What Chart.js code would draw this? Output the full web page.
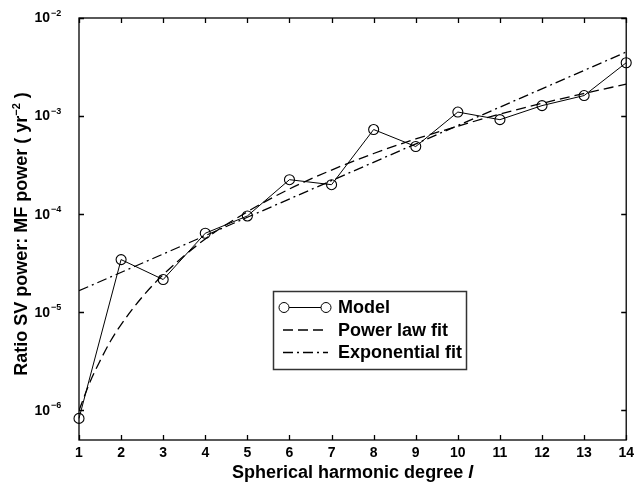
<!DOCTYPE html>
<html lang="en">
<head>
  <meta charset="UTF-8" />
  <title>Ratio SV power : MF power</title>
  <script src="https://cdn.jsdelivr.net/npm/chart.js"></script>
  <style>
    html, body { margin: 0; padding: 0; background: #fff; }
    #wrap { width: 639px; height: 485px; }
  </style>
</head>
<body>
  <div id="wrap"><canvas id="ratioChart" width="639" height="485"></canvas></div>

  <script>
    // degrees l and model ratio (yr^-2)
    const degrees = [1, 2, 3, 4, 5, 6, 7, 8, 9, 10, 11, 12, 13, 14];
    const modelRatio = [8.3e-7, 3.45e-5, 2.16e-5, 6.4e-5, 9.6e-5, 2.25e-4, 2.0e-4,
                        7.3e-4, 4.9e-4, 1.1e-3, 9.2e-4, 1.28e-3, 1.62e-3, 3.5e-3];

    // power law fit
    const powerDeg = [1, 1.25, 1.5, 1.75, 2, 2.5, 3, 4, 5, 6, 7, 8, 9, 10, 11, 12, 13, 14];
    const powerFit = [1.0e-6, 1.9e-6, 3.2e-6, 5.1e-6, 7.5e-6, 1.43e-5, 2.42e-5, 5.6e-5, 1.06e-4,
                      1.81e-4, 2.82e-4, 4.16e-4, 5.85e-4, 7.9e-4, 1.05e-3, 1.35e-3, 1.70e-3, 2.12e-3];

    // exponential fit (straight line on log axis)
    const expDeg = [1, 14];
    const expFit = [1.66e-5, 4.5e-3];

    const yExponents = [-6, -5, -4, -3, -2];
    const seriesNames = ['Model', 'Power law fit', 'Exponential fit'];

    const pts = (xs, ys) => xs.map((x, i) => ({ x: x, y: ys[i] }));

    const FONT = "'Liberation Sans', Arial, Helvetica, sans-serif";
    const INK = '#000';

    // frame, inward ticks, y labels with exponents, axis titles, legend
    const decorations = {
      id: 'decorations',
      afterDatasetsDraw(chart) {
        const ctx = chart.ctx;
        const a = chart.chartArea;
        const xs = chart.scales.x, ys = chart.scales.y;
        const tick = 5;
        ctx.save();
        ctx.strokeStyle = INK;
        ctx.lineWidth = 1.3;
        ctx.strokeRect(a.left, a.top, a.right - a.left, a.bottom - a.top);

        ctx.beginPath();
        degrees.forEach(d => {
          const px = Math.round(xs.getPixelForValue(d)) + 0.5;
          ctx.moveTo(px, a.bottom); ctx.lineTo(px, a.bottom - tick);
          ctx.moveTo(px, a.top); ctx.lineTo(px, a.top + tick);
        });
        yExponents.forEach(n => {
          const py = Math.round(ys.getPixelForValue(Math.pow(10, n))) + 0.5;
          ctx.moveTo(a.left, py); ctx.lineTo(a.left + tick, py);
          ctx.moveTo(a.right, py); ctx.lineTo(a.right - tick, py);
        });
        ctx.stroke();

        // y tick labels 10^n
        ctx.fillStyle = INK;
        yExponents.forEach(n => {
          const py = ys.getPixelForValue(Math.pow(10, n));
          ctx.font = 'bold 14px ' + FONT;
          ctx.textAlign = 'right';
          ctx.textBaseline = 'middle';
          ctx.fillText('10', 50, py + 0.5);
          ctx.font = 'bold 9px ' + FONT;
          ctx.textAlign = 'left';
          ctx.textBaseline = 'alphabetic';
          ctx.fillText('\u2212' + Math.abs(n), 51, py - 2.5);
        });

        // x title with italic l
        const xt1 = 'Spherical harmonic degree ';
        const xt2 = 'l';
        ctx.font = 'bold 18px ' + FONT;
        const w1 = ctx.measureText(xt1).width;
        ctx.font = 'italic bold 18px ' + FONT;
        const w2 = ctx.measureText(xt2).width;
        const cx = (a.left + a.right) / 2;
        let sx = cx - (w1 + w2) / 2;
        ctx.textAlign = 'left';
        ctx.textBaseline = 'alphabetic';
        ctx.font = 'bold 18px ' + FONT;
        ctx.fillText(xt1, sx, 478);
        ctx.font = 'italic bold 18px ' + FONT;
        ctx.fillText(xt2, sx + w1, 478);

        // y title, rotated, with superscript -2
        const yt1 = 'Ratio SV power: MF power ( yr';
        const ytSup = '\u22122';
        const yt3 = ' )';
        ctx.font = 'bold 18px ' + FONT;
        const a1 = ctx.measureText(yt1).width;
        const a3 = ctx.measureText(yt3).width;
        ctx.font = 'bold 11px ' + FONT;
        const a2 = ctx.measureText(ytSup).width;
        const total = a1 + a2 + a3;
        const cy = (a.top + a.bottom) / 2 + 5;
        ctx.translate(27, cy);
        ctx.rotate(-Math.PI / 2);
        let lx = -total / 2;
        ctx.font = 'bold 18px ' + FONT;
        ctx.fillText(yt1, lx, 0);
        ctx.font = 'bold 11px ' + FONT;
        ctx.fillText(ytSup, lx + a1, -7.5);
        ctx.font = 'bold 18px ' + FONT;
        ctx.fillText(yt3, lx + a1 + a2, 0);
        ctx.setTransform(1, 0, 0, 1, 0, 0);

        // legend box
        const L = { x: 273.5, y: 291.5, w: 193, h: 78 };
        ctx.strokeStyle = '#333';
        ctx.lineWidth = 1.5;
        ctx.strokeRect(L.x, L.y, L.w, L.h);
        const rows = [307.5, 330, 352.5];
        const x0 = 284, x1 = 326;
        ctx.strokeStyle = INK;
        // model sample
        ctx.lineWidth = 1;
        ctx.beginPath(); ctx.moveTo(x0 + 5, rows[0]); ctx.lineTo(x1 - 5, rows[0]); ctx.stroke();
        [x0, x1].forEach(px => {
          ctx.beginPath(); ctx.arc(px, rows[0], 5, 0, Math.PI * 2); ctx.stroke();
        });
        // power law sample
        ctx.lineWidth = 1.3;
        ctx.setLineDash([10, 5]);
        ctx.beginPath(); ctx.moveTo(x0 - 1, rows[1]); ctx.lineTo(x1, rows[1]); ctx.stroke();
        // exponential sample
        ctx.setLineDash([10, 4, 2, 4]);
        ctx.beginPath(); ctx.moveTo(x0 - 1, rows[2]); ctx.lineTo(x1 + 2, rows[2]); ctx.stroke();
        ctx.setLineDash([]);
        ctx.font = 'bold 18px ' + FONT;
        ctx.textAlign = 'left';
        ctx.textBaseline = 'middle';
        seriesNames.forEach((s, i) => ctx.fillText(s, 338, rows[i] + 1));
        ctx.restore();
      }
    };

    new Chart(document.getElementById('ratioChart'), {
      type: 'line',
      data: {
        datasets: [
          {
            label: seriesNames[2],
            data: pts(expDeg, expFit),
            borderColor: INK,
            borderWidth: 1.3,
            borderDash: [10, 4, 2, 4],
            pointRadius: 0,
            fill: false
          },
          {
            label: seriesNames[1],
            data: pts(powerDeg, powerFit),
            borderColor: INK,
            borderWidth: 1.3,
            borderDash: [10, 5],
            pointRadius: 0,
            cubicInterpolationMode: 'monotone',
            fill: false
          },
          {
            label: seriesNames[0],
            data: pts(degrees, modelRatio),
            borderColor: INK,
            borderWidth: 1,
            pointStyle: 'circle',
            pointRadius: 5,
            pointBorderWidth: 1.1,
            pointBorderColor: INK,
            pointBackgroundColor: 'rgba(0,0,0,0)',
            tension: 0,
            clip: false,
            fill: false
          }
        ]
      },
      options: {
        responsive: false,
        animation: false,
        devicePixelRatio: 1,
        layout: { padding: { top: 18, right: 7, left: 0, bottom: 0 } },
        plugins: {
          legend: { display: false },
          tooltip: { enabled: false }
        },
        scales: {
          x: {
            type: 'linear',
            min: 1,
            max: 14,
            grid: { display: false, drawTicks: false },
            border: { display: false },
            ticks: {
              stepSize: 1,
              padding: 5,
              color: INK,
              font: { family: FONT, size: 14, weight: 'bold' }
            },
            afterFit(scale) { scale.height = 45; }
          },
          y: {
            type: 'logarithmic',
            min: 5e-7,
            max: 1e-2,
            grid: { display: false, drawTicks: false },
            border: { display: false },
            ticks: { display: false },
            afterFit(scale) { scale.width = 79; }
          }
        }
      },
      plugins: [decorations]
    });
  </script>
</body>
</html>
